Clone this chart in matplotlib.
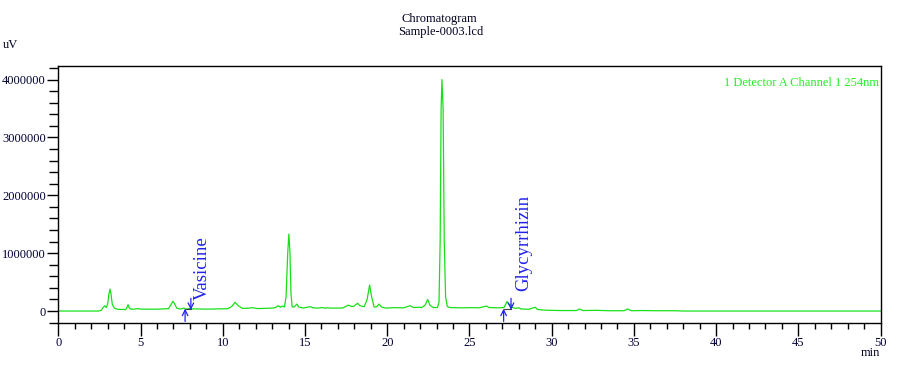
import matplotlib
matplotlib.use('Agg')
import matplotlib.pyplot as plt
from matplotlib.ticker import MultipleLocator, FuncFormatter

plt.rcParams['font.family'] = ['Liberation Serif', 'DejaVu Serif']

''' trace read off the chromatogram: time (min), signal (uV) '''
t_min = [0.0, 2.45, 2.6, 2.72, 2.82, 2.92, 3.0, 3.08, 3.14, 3.2, 3.28, 3.4, 3.6,
         4.1, 4.17, 4.24, 4.32, 4.45, 4.7, 4.85, 5.05, 6.0, 6.7, 6.85, 6.97, 7.08,
         7.2, 7.4, 7.65, 7.75, 7.95, 8.1, 9.0, 10.3, 10.55, 10.75, 10.95, 11.2,
         11.6, 11.8, 12.1, 13.0, 13.2, 13.38, 13.5, 13.63, 13.75, 13.85, 13.95,
         14.02, 14.08, 14.15, 14.22, 14.35, 14.5, 14.62, 14.9, 15.32, 15.5, 15.8,
         16.03, 16.2, 16.35, 16.6, 17.3, 17.65, 17.8, 17.95, 18.2, 18.35, 18.6,
         18.78, 18.93, 19.05, 19.2, 19.35, 19.5, 19.65, 19.9, 20.39, 21.0, 21.4,
         21.6, 21.95, 22.1, 22.3, 22.46, 22.6, 22.8, 23.05, 23.15, 23.22, 23.28,
         23.33, 23.4, 23.47, 23.55, 23.65, 23.8, 24.5, 25.2, 25.6, 26.03, 26.2,
         26.8, 27.1, 27.29, 27.4, 27.5, 27.62, 27.8, 28.0, 28.15, 28.6, 29.0,
         29.15, 29.6, 30.5, 31.5, 31.7, 31.9, 32.7, 33.5, 34.4, 34.63, 34.85,
         35.5, 36.3, 37.5, 38.0, 50.0]
signal_uv = [0, 0, 10000, 60000, 90000, 60000, 120000, 300000, 380000, 300000, 120000, 50000, 30000,
             25000, 60000, 110000, 50000, 30000, 35000, 42000, 32000, 32000, 40000, 110000, 170000, 120000,
             50000, 35000, 50000, 30000, 45000, 38000, 32000, 40000, 80000, 150000, 90000, 45000,
             50000, 58000, 42000, 50000, 60000, 92000, 65000, 86000, 70000, 250000, 1000000,
             1330000, 1050000, 300000, 70000, 70000, 120000, 70000, 52000, 75000, 55000, 50000,
             60000, 50000, 55000, 50000, 52000, 103000, 80000, 80000, 133000, 90000, 75000,
             200000, 450000, 250000, 70000, 70000, 120000, 70000, 50000, 58000, 55000, 92000,
             60000, 65000, 60000, 100000, 200000, 100000, 60000, 60000, 150000, 1200000, 3500000,
             4000000, 3500000, 1200000, 250000, 80000, 60000, 55000, 58000, 55000, 86000, 60000,
             55000, 60000, 165000, 110000, 115000, 60000, 45000, 55000, 35000, 30000, 65000,
             25000, 15000, 8000, 8000, 35000, 8000, 12000, 5000, 5000, 35000, 5000,
             8000, 5000, 5000, 0, 0]

# identified peaks: name, integration start / end (min)
peak_names = ['Vasicine', 'Glycyrrhizin']
peak_start = [7.71, 27.08]
peak_end = [8.06, 27.53]
label_t = [8.75, 28.31]
label_y = [190000, 345000]

fig = plt.figure(figsize=(9.07, 3.68), dpi=100)
ax = fig.add_axes([0.0643, 0.1223, 0.9065, 0.6975])

ax.plot(t_min, signal_uv, color='#18e018', lw=0.9)

blue = '#2222ee'
arrow = dict(arrowstyle='->,head_length=0.4,head_width=0.2', color=blue, lw=0.9,
             shrinkA=0, shrinkB=0)
for j in range(len(peak_names)):
    ax.plot([peak_start[j], peak_end[j]], [30000, 30000], color='#404040', lw=0.8)
    ax.annotate('', xy=(peak_start[j], 40000), xytext=(peak_start[j], -180000), arrowprops=arrow)
    ax.annotate('', xy=(peak_end[j], 20000), xytext=(peak_end[j], 220000), arrowprops=arrow)
    ax.text(label_t[j], label_y[j], peak_names[j], rotation=90, ha='center', va='bottom',
            color=blue, fontsize=13.5)

ax.set_xlim(0, 50)
ax.set_ylim(-207000, 4229000)

ax.xaxis.set_major_locator(MultipleLocator(5))
ax.xaxis.set_minor_locator(MultipleLocator(1))
ax.yaxis.set_major_locator(MultipleLocator(1000000))
ax.yaxis.set_minor_locator(MultipleLocator(200000))
ax.yaxis.set_major_formatter(FuncFormatter(lambda v, p: '%d' % int(round(v))))

ax.tick_params(axis='x', which='major', direction='out', length=9, width=1, pad=1,
               labelsize=9, labelcolor='#000033')
ax.tick_params(axis='x', which='minor', direction='out', length=4.5, width=1)
ax.tick_params(axis='y', which='major', direction='out', length=8, width=1, pad=1,
               labelsize=9, labelcolor='#000033')
ax.tick_params(axis='y', which='minor', direction='out', length=6.5, width=1)
for s in ax.spines.values():
    s.set_linewidth(1.0)

ax.text(0.998, 0.936, '1 Detector A Channel 1 254nm', transform=ax.transAxes,
        ha='right', va='center', color='#22ee22', fontsize=9)

fig.text(0.4846, 1 - 19 / 368, 'Chromatogram', ha='center', va='center', fontsize=9, color='#000022')
fig.text(0.486, 1 - 32 / 368, 'Sample-0003.lcd', ha='center', va='center', fontsize=9, color='#000022')
fig.text(3 / 907, 1 - 45 / 368, 'uV', ha='left', va='center', fontsize=9, color='#000022')
fig.text(880 / 907, 1 - 353 / 368, 'min', ha='right', va='center', fontsize=9, color='#000022')

plt.savefig('out.png', format='png', dpi=100)
